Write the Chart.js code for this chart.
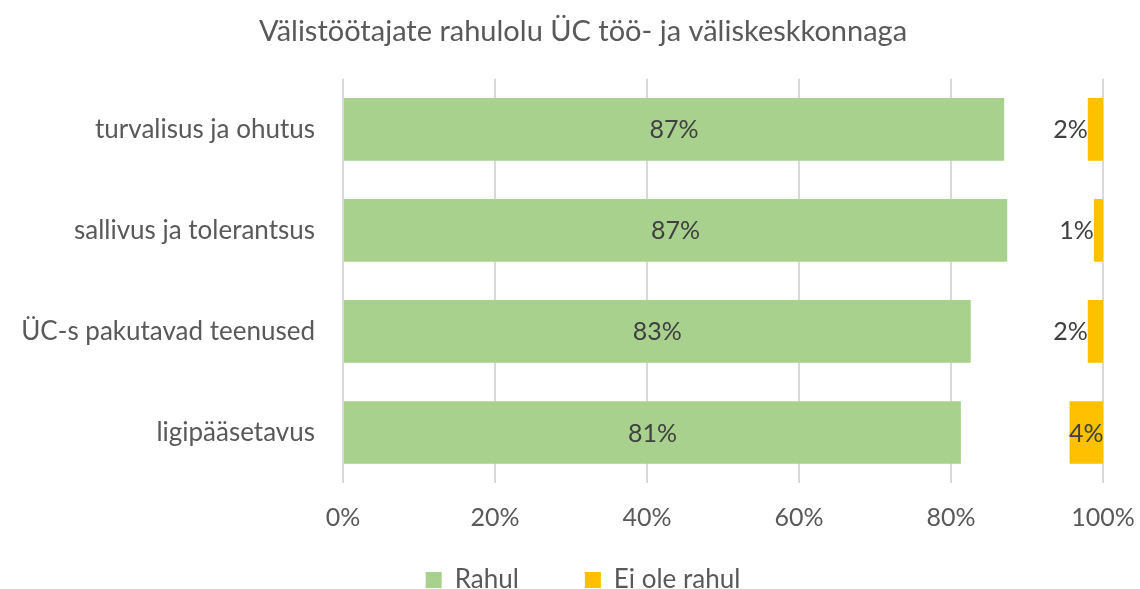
<!DOCTYPE html>
<html><head><meta charset="utf-8">
<script src="https://cdn.jsdelivr.net/npm/chart.js@4.4.1/dist/chart.umd.min.js"></script>
<style>html,body{margin:0;padding:0;background:#fff}#wrap{width:1140px;height:589px}</style>
</head><body><div id="wrap"><canvas id="c" width="1140" height="589"></canvas></div>
<script>
const categories = ["turvalisus ja ohutus", "sallivus ja tolerantsus", "ÜC-s pakutavad teenused", "ligipääsetavus"];
const rahul = [87.0, 87.4, 82.6, 81.3];
const eiOleRahul = [2.0, 1.2, 2.0, 4.4];
const xTicks = [0, 20, 40, 60, 80, 100];
const seriesNames = ["Rahul", "Ei ole rahul"];
const titleText = "Välistöötajate rahulolu ÜC töö- ja väliskeskkonnaga";

const FONT = "Lato, 'Open Sans', sans-serif";
const TXT = "#595959";

const labelPlugin = {
  id: 'barLabels',
  afterDatasetsDraw(chart) {
    const ctx = chart.ctx;
    ctx.save();
    ctx.font = "25px " + FONT;
    ctx.fillStyle = "#404040";
    ctx.textBaseline = "middle";
    chart.data.datasets.forEach((ds, di) => {
      const meta = chart.getDatasetMeta(di);
      meta.data.forEach((bar, i) => {
        const v = di === 0 ? rahul[i] : eiOleRahul[i];
        const txt = Math.round(v) + "%";
        const w = ctx.measureText(txt).width;
        const left = Math.min(bar.x, bar.base), right = Math.max(bar.x, bar.base);
        const bw = right - left;
        if (w <= bw + 2) {
          ctx.textAlign = "center";
          ctx.fillText(txt, (left + right) / 2, bar.y + 1);
        } else {
          ctx.textAlign = "right";
          ctx.fillText(txt, left, bar.y + 1);
        }
      });
    });
    ctx.restore();
  }
};

new Chart(document.getElementById('c'), {
  type: 'bar',
  data: {
    labels: categories,
    datasets: [
      { label: seriesNames[0], data: rahul, backgroundColor: "#A9D18E", grouped: false, barPercentage: 0.62, categoryPercentage: 1 },
      { label: seriesNames[1], data: eiOleRahul.map(v => [100 - v, 100]), backgroundColor: "#FFC000", grouped: false, barPercentage: 0.62, categoryPercentage: 1 }
    ]
  },
  options: {
    indexAxis: 'y',
    responsive: false,
    animation: false,
    layout: { padding: { left: 10, right: -16, top: 4, bottom: -14 } },
    plugins: {
      title: { display: true, text: titleText, color: TXT, font: { family: FONT, size: 29, weight: 'normal' }, padding: { top: 10, bottom: 30 } },
      legend: {
        position: 'bottom',
        labels: {
          color: TXT, font: { family: FONT, size: 26 }, boxWidth: 16, boxHeight: 16, padding: 14,
          generateLabels(chart) {
            const items = Chart.defaults.plugins.legend.labels.generateLabels(chart);
            if (items.length) items[0].text = items[0].text + "\u2003\u2003\u2002";
            return items;
          }
        }
      },
      tooltip: { enabled: false }
    },
    scales: {
      x: {
        min: 0, max: 100,
        afterBuildTicks(axis) { axis.ticks = xTicks.map(v => ({ value: v })); },
        afterFit(axis) { axis.paddingRight = 37; },
        ticks: { color: TXT, font: { family: FONT, size: 25 }, callback: v => v + "%", padding: 20 },
        grid: { color: "#d9d9d9", lineWidth: 2, drawTicks: false },
        border: { display: false }
      },
      y: {
        afterFit(axis) { axis.width = 333; },
        ticks: { color: TXT, font: { family: FONT, size: 26 }, padding: 28 },
        grid: { display: false, drawTicks: false },
        border: { display: false }
      }
    }
  },
  plugins: [labelPlugin]
});
</script></body></html>
